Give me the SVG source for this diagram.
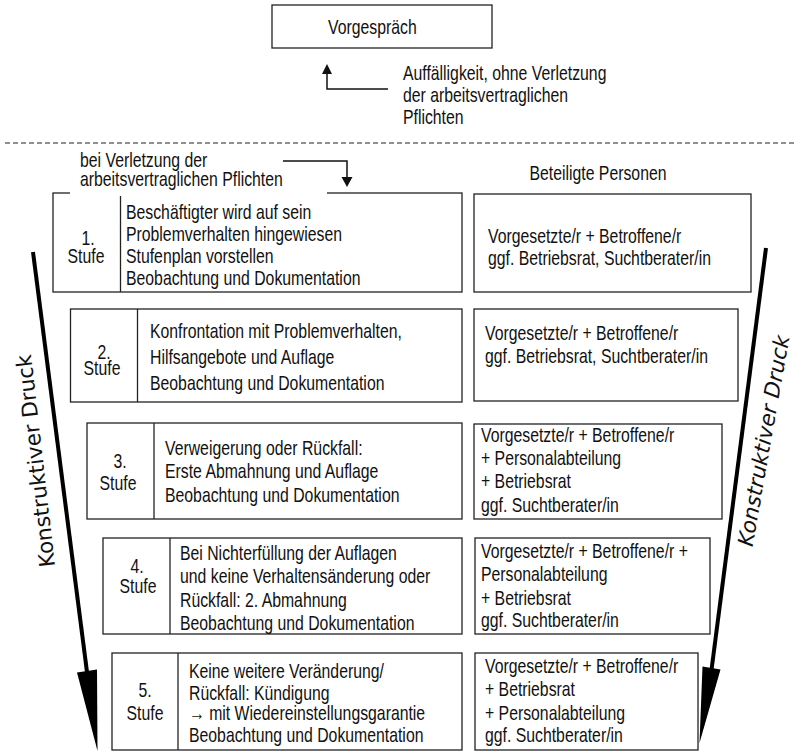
<svg xmlns="http://www.w3.org/2000/svg" width="795" height="751" viewBox="0 0 795 751">
<style>
.t{font-family:'Liberation Sans',Arial,sans-serif;font-size:20px;fill:#111}
.m{text-anchor:middle}
.b{fill:#fff;stroke:#222;stroke-width:1.3}
.d{stroke:#222;stroke-width:1.3}
.ln{fill:none;stroke:#111;stroke-width:1.5}
.k{font-family:'DejaVu Sans',Verdana,sans-serif;font-size:21.5px;fill:#111}
</style>
<rect width="795" height="751" fill="#fff"/>
<g id="vorgespraech">
<rect class="b" x="272" y="5" width="220" height="43"/>
<text class="t" transform="matrix(0.79 0 0 1 328 0)" y="34">Vorgespräch</text>
</g>
<g id="auffaelligkeit">
<text class="t" transform="matrix(0.79 0 0 1 403 0)" y="80">Auffälligkeit, ohne Verletzung</text>
<text class="t" transform="matrix(0.79 0 0 1 403 0)" y="102">der arbeitsvertraglichen</text>
<text class="t" transform="matrix(0.79 0 0 1 403 0)" y="124">Pflichten</text>
</g>
<line x1="5" y1="143" x2="795" y2="143" stroke="#222" stroke-width="1.2" stroke-dasharray="5,3"/>
<g id="stufe1">
<rect class="b" x="53" y="193" width="409" height="99"/>
<line class="d" x1="120.5" y1="193" x2="120.5" y2="292"/>
<text class="t m" transform="matrix(0.79 0 0 1 88 0)" y="245">1.</text>
<text class="t m" transform="matrix(0.79 0 0 1 86 0)" y="263">Stufe</text>
<text class="t" transform="matrix(0.79 0 0 1 126 0)" y="219">Beschäftigter wird auf sein</text>
<text class="t" transform="matrix(0.79 0 0 1 126 0)" y="241">Problemverhalten hingewiesen</text>
<text class="t" transform="matrix(0.79 0 0 1 126 0)" y="263">Stufenplan vorstellen</text>
<text class="t" transform="matrix(0.79 0 0 1 126 0)" y="285">Beobachtung und Dokumentation</text>
</g>
<g id="verletzung">
<rect x="70" y="150" width="257" height="46" fill="#fff"/>
<text class="t" transform="matrix(0.79 0 0 1 80 0)" y="167">bei Verletzung der</text>
<text class="t" transform="matrix(0.79 0 0 1 80 0)" y="186">arbeitsvertraglichen Pflichten</text>
</g>
<g id="personen1">
<rect class="b" x="474" y="194" width="277" height="98"/>
<text class="t" transform="matrix(0.79 0 0 1 488 0)" y="243">Vorgesetzte/r + Betroffene/r</text>
<text class="t" transform="matrix(0.79 0 0 1 488 0)" y="265">ggf. Betriebsrat, Suchtberater/in</text>
</g>
<g id="beteiligte">
<text class="t m" transform="matrix(0.79 0 0 1 598 0)" y="180">Beteiligte Personen</text>
</g>
<g id="stufe2">
<rect class="b" x="70.5" y="309" width="391.5" height="93"/>
<line class="d" x1="137.5" y1="309" x2="137.5" y2="402"/>
<text class="t m" transform="matrix(0.79 0 0 1 104 0)" y="359">2.</text>
<text class="t m" transform="matrix(0.79 0 0 1 102 0)" y="375">Stufe</text>
<text class="t" transform="matrix(0.79 0 0 1 150 0)" y="338">Konfrontation mit Problemverhalten,</text>
<text class="t" transform="matrix(0.79 0 0 1 150 0)" y="364">Hilfsangebote und Auflage</text>
<text class="t" transform="matrix(0.79 0 0 1 150 0)" y="390">Beobachtung und Dokumentation</text>
</g>
<g id="personen2">
<rect class="b" x="474" y="309" width="264" height="92"/>
<text class="t" transform="matrix(0.79 0 0 1 485 0)" y="340">Vorgesetzte/r + Betroffene/r</text>
<text class="t" transform="matrix(0.79 0 0 1 485 0)" y="363">ggf. Betriebsrat, Suchtberater/in</text>
</g>
<g id="stufe3">
<rect class="b" x="87" y="423" width="375" height="96"/>
<line class="d" x1="154" y1="423" x2="154" y2="519"/>
<text class="t m" transform="matrix(0.79 0 0 1 120 0)" y="468">3.</text>
<text class="t m" transform="matrix(0.79 0 0 1 118 0)" y="490">Stufe</text>
<text class="t" transform="matrix(0.79 0 0 1 165 0)" y="455">Verweigerung oder Rückfall:</text>
<text class="t" transform="matrix(0.79 0 0 1 165 0)" y="478">Erste Abmahnung und Auflage</text>
<text class="t" transform="matrix(0.79 0 0 1 165 0)" y="502">Beobachtung und Dokumentation</text>
</g>
<g id="personen3">
<rect class="b" x="474" y="424" width="248" height="95"/>
<text class="t" transform="matrix(0.79 0 0 1 481 0)" y="442">Vorgesetzte/r + Betroffene/r</text>
<text class="t" transform="matrix(0.79 0 0 1 481 0)" y="465">+ Personalabteilung</text>
<text class="t" transform="matrix(0.79 0 0 1 481 0)" y="488">+ Betriebsrat</text>
<text class="t" transform="matrix(0.79 0 0 1 481 0)" y="512">ggf. Suchtberater/in</text>
</g>
<g id="stufe4">
<rect class="b" x="103" y="538" width="359" height="96"/>
<line class="d" x1="170" y1="538" x2="170" y2="634"/>
<text class="t m" transform="matrix(0.79 0 0 1 137 0)" y="573">4.</text>
<text class="t m" transform="matrix(0.79 0 0 1 138 0)" y="593">Stufe</text>
<text class="t" transform="matrix(0.79 0 0 1 180 0)" y="560">Bei Nichterfüllung der Auflagen</text>
<text class="t" transform="matrix(0.79 0 0 1 180 0)" y="583">und keine Verhaltensänderung oder</text>
<text class="t" transform="matrix(0.79 0 0 1 180 0)" y="607">Rückfall: 2. Abmahnung</text>
<text class="t" transform="matrix(0.79 0 0 1 180 0)" y="630">Beobachtung und Dokumentation</text>
</g>
<g id="personen4">
<rect class="b" x="475" y="538" width="235" height="96"/>
<text class="t" transform="matrix(0.79 0 0 1 481 0)" y="558">Vorgesetzte/r + Betroffene/r +</text>
<text class="t" transform="matrix(0.79 0 0 1 481 0)" y="581">Personalabteilung</text>
<text class="t" transform="matrix(0.79 0 0 1 481 0)" y="605">+ Betriebsrat</text>
<text class="t" transform="matrix(0.79 0 0 1 481 0)" y="627">ggf. Suchtberater/in</text>
</g>
<g id="stufe5">
<rect class="b" x="112" y="653" width="350" height="97"/>
<line class="d" x1="178" y1="653" x2="178" y2="750"/>
<text class="t m" transform="matrix(0.79 0 0 1 145 0)" y="697">5.</text>
<text class="t m" transform="matrix(0.79 0 0 1 145 0)" y="720">Stufe</text>
<text class="t" transform="matrix(0.79 0 0 1 189 0)" y="678">Keine weitere Veränderung/</text>
<text class="t" transform="matrix(0.79 0 0 1 189 0)" y="700">Rückfall: Kündigung</text>
<text class="t" transform="matrix(0.79 0 0 1 189 0)" y="720">→ mit Wiedereinstellungsgarantie</text>
<text class="t" transform="matrix(0.79 0 0 1 189 0)" y="742">Beobachtung und Dokumentation</text>
</g>
<g id="personen5">
<rect class="b" x="475" y="653" width="223" height="97"/>
<text class="t" transform="matrix(0.79 0 0 1 485 0)" y="673">Vorgesetzte/r + Betroffene/r</text>
<text class="t" transform="matrix(0.79 0 0 1 485 0)" y="696">+ Betriebsrat</text>
<text class="t" transform="matrix(0.79 0 0 1 485 0)" y="720">+ Personalabteilung</text>
<text class="t" transform="matrix(0.79 0 0 1 485 0)" y="742">ggf. Suchtberater/in</text>
</g>
<g id="druck-links">
<text class="k m" transform="translate(43,460) rotate(-96.5)">Konstruktiver Druck</text>
</g>
<g id="druck-rechts">
<text class="k m" transform="translate(771,442) rotate(-80)" font-style="italic">Konstruktiver Druck</text>
</g>
<g id="connectors">
<polyline class="ln" points="388,89 327,89 327,72"/>
<polygon points="327,64 322,74 332,74" fill="#111"/>
<polyline class="ln" points="283,161 347,161 347,179"/>
<polygon points="347,187 341.5,177 352.5,177" fill="#111"/>
<line x1="33" y1="252" x2="87" y2="672" stroke="#000" stroke-width="4"/>
<polygon points="77,672.5 97,669.5 97.5,751" fill="#000"/>
<line x1="766" y1="248" x2="711.5" y2="670" stroke="#000" stroke-width="4"/>
<polygon points="702.5,666.5 720.5,669.5 699.5,743" fill="#000"/>
</g>
</svg>
